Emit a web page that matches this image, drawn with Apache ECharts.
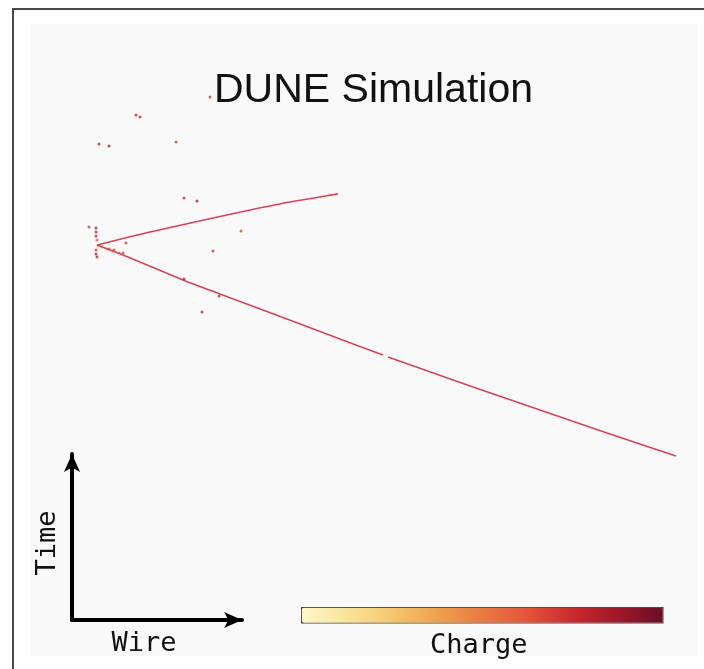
<!DOCTYPE html>
<html>
<head>
<meta charset="utf-8">
<script src="https://cdn.jsdelivr.net/npm/echarts@6/dist/echarts.min.js"></script>
<style>html,body{margin:0;padding:0;background:#fff}#c{width:704px;height:669px}</style>
</head>
<body>
<div id="c"></div>
<script>
// Wire / time coordinates read from the event display (arbitrary units)
const upperTrack = [[67,221],[120,208],[183,194],[220,186],[260,178],[308,170]];
const lowerTrackA = [[67,221],[93,231],[153,256],[190,270],[257,295],[310,315],[353,331]];
const lowerTrackB = [[358,333],[443,363],[577,409],[646,432]];
// isolated hits: [wire, time, charge]
const hits = [
  [106,91,0.8],[110,93,0.75],[69,120,0.8],[79,122,0.82],[146,118,0.7],[180,73,0.7],
  [154,174,0.75],[167,177,0.8],[211,207,0.65],[183,227,0.7],[154,255,0.85],[189,272,0.8],[172,288,0.8],
  [66,204,0.8],[66,208,0.78],[66,212,0.75],[67,216,0.6],[66,226,0.7],[66,230,0.8],[67,233,0.75],
  [59,203,0.7],[79,225,0.65],[84,226,0.7],[93,229,0.7],[96,219,0.7],
  [68,222,0.35],[72,223,0.3],[77,225,0.35],[83,227,0.4],[89,229,0.45],
  [300,171,0.4],[306,170,0.35]
];
const chargeColors = ['#fdf7c9','#f9e39a','#f5c76e','#eea24e','#e97a42','#e4543a','#c92a2c','#a0182a','#6b0e22'];

const chart = echarts.init(document.getElementById('c'));
chart.setOption({
  animation: false,
  backgroundColor: '#ffffff',
  title: [
    {text: 'DUNE Simulation', left: 209, top: 65,
     textStyle: {fontFamily: 'Liberation Sans', fontSize: 41, fontWeight: 'normal', color: '#111'}},
    {text: 'Charge', left: 425, top: 627,
     textStyle: {fontFamily: 'DejaVu Sans Mono', fontSize: 27, fontWeight: 'normal', color: '#111'}}
  ],
  graphic: [
    {type: 'rect', shape: {x: 13, y: 9, width: 760, height: 720},
     style: {fill: 'none', stroke: '#4a4a4a', lineWidth: 2}, z: 100}
  ],
  grid: [
    {left: 30, top: 24, width: 668, height: 632, show: true, backgroundColor: '#f9f9f9', borderWidth: 0},
    {left: 72, top: 454, width: 170, height: 166}
  ],
  xAxis: [
    {gridIndex: 0, type: 'value', min: 0, max: 668, show: false},
    {gridIndex: 1, type: 'value', min: 0, max: 1,
     axisLine: {show: true, symbol: ['none', 'arrow'], symbolSize: [12, 18], lineStyle: {color: '#000', width: 4}},
     axisTick: {show: false}, axisLabel: {show: false}, splitLine: {show: false},
     name: 'Wire', nameLocation: 'middle', nameGap: 10,
     nameTextStyle: {fontFamily: 'DejaVu Sans Mono', fontSize: 27, color: '#111', padding: [0, 26, 0, 0]}}
  ],
  yAxis: [
    {gridIndex: 0, type: 'value', min: 0, max: 632, inverse: true, show: false},
    {gridIndex: 1, type: 'value', min: 0, max: 1,
     axisLine: {show: true, symbol: ['none', 'arrow'], symbolSize: [12, 18], lineStyle: {color: '#000', width: 4}},
     axisTick: {show: false}, axisLabel: {show: false}, splitLine: {show: false},
     name: 'Time', nameLocation: 'middle', nameGap: 11, nameRotate: 90,
     nameTextStyle: {fontFamily: 'DejaVu Sans Mono', fontSize: 27, color: '#111', padding: [0, 12, 0, 0]}}
  ],
  visualMap: {
    type: 'continuous', min: 0, max: 1, dimension: 2, seriesIndex: 3,
    orient: 'horizontal', left: 301, top: 607, itemWidth: 15, itemHeight: 361,
    calculable: false, hoverLink: false, padding: 0,
    borderColor: '#444', borderWidth: 1.5,
    inRange: {color: chargeColors},
    textStyle: {color: 'transparent'}
  },
  series: [
    {type: 'line', xAxisIndex: 0, yAxisIndex: 0, data: upperTrack, symbol: 'none', smooth: 0.3,
     lineStyle: {color: '#d9435a', width: 1.6}, silent: true},
    {type: 'line', xAxisIndex: 0, yAxisIndex: 0, data: lowerTrackA, symbol: 'none', smooth: 0.3,
     lineStyle: {color: '#d9435a', width: 1.6}, silent: true},
    {type: 'line', xAxisIndex: 0, yAxisIndex: 0, data: lowerTrackB, symbol: 'none', smooth: 0.3,
     lineStyle: {color: '#d9435a', width: 1.6}, silent: true},
    {type: 'scatter', xAxisIndex: 0, yAxisIndex: 0, data: hits, symbolSize: 3, silent: true}
  ]
});
</script>
</body>
</html>
